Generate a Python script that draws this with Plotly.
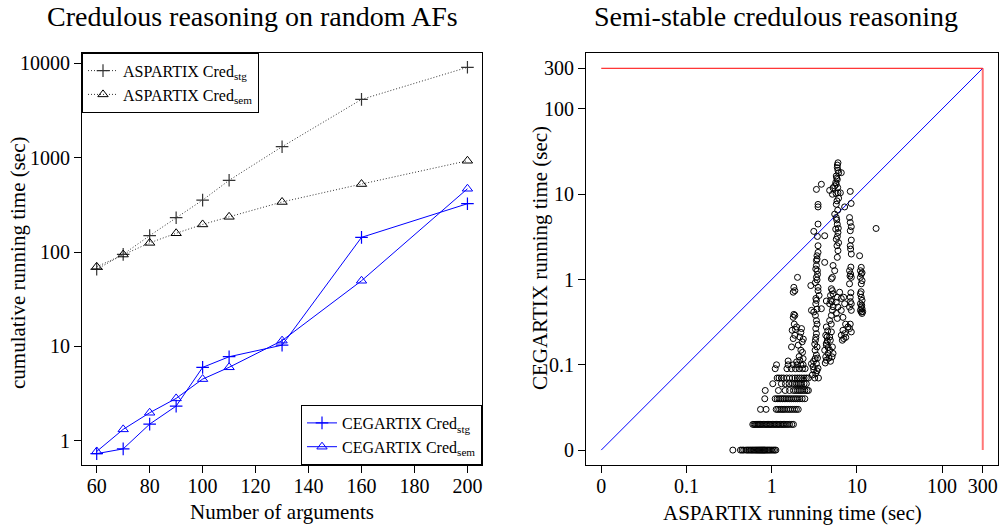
import plotly.graph_objects as go

# ---------------- Left panel data ----------------
n_args = [60, 70, 80, 90, 100, 110, 130, 160, 200]
asp_stg = [65.6, 94.5, 149, 231, 355, 575, 1306, 4140, 9060]
asp_sem = [69.8, 94, 125, 158, 196, 236, 339, 525, 927]
ceg_stg = [0.73, 0.82, 1.50, 2.33, 5.99, 7.77, 10.3, 143, 325]
ceg_sem = [0.77, 1.32, 1.98, 2.81, 4.5, 6.0, 11.5, 49.6, 468]
left_yticks = [1, 10, 100, 1000, 10000]
left_xticks = [60, 80, 100, 120, 140, 160, 180, 200]

# ---------------- Right panel data (0 drawn at 0.01) ----------------
row0_x = [0.35, 0.43, 0.45, 0.47, 0.5, 0.52, 0.54, 0.56, 0.58, 0.6, 0.62, 0.64, 0.66, 0.68, 0.7,
          0.72, 0.74, 0.76, 0.78, 0.8, 0.82, 0.84, 0.87, 0.9, 0.93, 0.96, 1.0, 1.04, 1.08, 1.12]
row0_y = [0.01] * len(row0_x)
row2_x = [0.6, 0.62, 0.64, 0.66, 0.68, 0.7, 0.72, 0.74, 0.77, 0.8, 0.83, 0.86, 0.89, 0.92, 0.95, 0.98,
          1.02, 1.06, 1.1, 1.14, 1.18, 1.22, 1.27, 1.32, 1.37, 1.42, 1.48, 1.55, 1.62, 1.72, 1.8]
row2_y = [0.02] * len(row2_x)
row3_x = [0.74, 0.86, 1.13, 1.18, 1.24, 1.3, 1.36, 1.42, 1.5, 1.58, 1.66, 1.75, 1.85, 1.95, 2.05]
row3_y = [0.03] * len(row3_x)
row4_x = [0.83, 1.1, 1.16, 1.22, 1.28, 1.34, 1.4, 1.47, 1.55, 1.63, 1.72, 1.82, 1.92, 2.02, 2.14, 2.28, 2.45]
row4_y = [0.04] * len(row4_x)
row5_x = [0.84, 1.2, 1.44, 1.62, 1.8, 1.9, 2.0, 2.1, 2.2, 2.32, 2.45, 2.6, 2.7]
row5_y = [0.05] * len(row5_x)
row6_x = [1.03, 1.3, 1.45, 1.6, 1.75, 1.85, 1.95, 2.05, 2.15, 2.25, 2.4, 2.55]
row6_y = [0.06] * len(row6_x)
row7_x = [1.16, 1.22, 1.3, 1.38, 1.5, 1.62, 1.75, 1.88, 2.0, 2.12, 2.25, 2.4, 2.55, 2.7]
row7_y = [0.07] * len(row7_x)
row10_x = [1.14, 1.56, 1.79, 1.99, 2.2, 2.34, 1.1, 1.51, 1.7, 1.9, 2.1, 2.3, 2.47]
row10_y = [0.1, 0.1, 0.1, 0.1, 0.1, 0.1, 0.09, 0.09, 0.09, 0.09, 0.09, 0.09, 0.09]

colA_x = [1.82, 1.87, 1.79, 2.01, 1.82, 1.87, 1.79, 1.84, 1.96, 1.74, 1.87, 1.79, 2.14, 2.24, 2.28,
          2.05, 2.2, 2.14, 2.34, 1.96, 1.71, 1.56, 2.3, 2.1, 1.9, 2.2, 2.35]
colA_y = [0.81, 0.74, 0.71, 1.06, 0.39, 0.38, 0.36, 0.30, 0.278, 0.254, 0.222, 0.203, 0.212, 0.266, 0.186,
          0.17, 0.148, 0.113, 0.118, 0.108, 0.162, 0.111, 0.14, 0.125, 0.26, 0.24, 0.2]

colB_x = [3.35, 3.83, 3.5, 3.5, 3.5, 3.12, 4.19, 3.44, 3.5, 3.5, 3.41, 3.35, 3.35, 3.29, 3.44, 3.35,
          3.41, 2.88, 3.5, 3.5, 3.6, 4.19, 3.35, 3.29, 2.93, 3.12, 3.26, 3.35, 3.41, 3.29, 3.35, 3.26,
          3.41, 3.23, 3.35, 3.23, 3.35, 3.5, 3.12, 3.29, 3.54, 3.0, 2.93, 3.06, 3.2, 3.4, 3.1, 3.45,
          3.2, 3.3, 3.4, 3.3, 3.25, 3.45, 3.4, 3.83, 4.38]
colB_y = [11.4, 13.1, 7.6, 7.1, 4.47, 3.67, 3.26, 3.2, 2.49, 2.08, 1.74, 1.67, 1.46, 1.33, 1.27, 1.06,
          0.99, 0.85, 0.81, 0.74, 0.65, 1.59, 0.57, 0.52, 0.435, 0.416, 0.38, 0.33, 0.30, 0.266, 0.232, 0.194,
          0.162, 0.148, 0.13, 0.118, 0.103, 0.091, 0.087, 0.079, 0.07, 0.076, 0.103, 0.095, 0.07, 0.085, 0.11, 0.12,
          0.175, 0.21, 0.45, 0.6, 0.92, 1.15, 1.9, 0.455, 0.56]

colC_x = [5.02, 5.02, 5.16, 5.25, 4.93, 4.79, 5.25, 5.16, 5.02, 4.79, 4.38, 4.31, 4.46, 4.38, 4.19, 4.31,
          4.38, 4.79, 5.02, 4.88, 5.16, 5.25, 4.79, 4.59, 5.11, 4.38, 4.5, 4.6, 4.7, 4.9, 4.25, 4.55,
          5.0, 5.1, 4.9]
colC_y = [1.02, 0.78, 0.74, 0.68, 0.57, 0.52, 0.48, 0.435, 0.38, 0.33, 0.278, 0.222, 0.212, 0.178, 0.148, 0.124,
          0.113, 0.212, 0.243, 0.194, 0.162, 0.136, 0.148, 0.136, 0.124, 0.17, 0.19, 0.16, 0.12, 0.11, 0.105, 0.25,
          0.3, 0.55, 0.65]

colD_x = [6.0, 5.89, 6.11, 5.73, 5.89, 5.64, 5.73, 5.49, 5.25, 4.79, 6.0, 6.4, 5.16, 5.84, 5.73, 5.49,
          5.73, 5.89, 5.64, 6.0, 5.73, 5.84, 6.0, 5.89, 5.25, 5.49, 5.16, 5.89, 5.73, 6.0, 5.73, 5.89,
          6.56, 5.9, 6.0, 5.8, 5.95, 5.7, 6.1, 5.95, 5.8, 6.05, 5.9, 6.1]
colD_y = [23.4, 20.5, 17.9, 16.4, 14.9, 13.7, 13.1, 12.5, 11.9, 11.1, 10.4, 10.4, 10.0, 8.36, 7.63, 5.84,
          5.33, 4.45, 3.9, 3.56, 2.97, 2.49, 2.18, 1.82, 1.46, 1.27, 1.06, 0.62, 0.54, 0.475, 0.4, 0.35,
          17.9, 22.0, 19.0, 15.5, 12.0, 10.2, 9.0, 6.5, 5.0, 4.0, 3.2, 2.7]

colE_x = [8.36, 7.18, 8.56, 8.2, 8.36, 8.6, 8.36, 8.6, 8.36, 8.44, 8.6, 8.2, 8.44, 8.6, 8.2, 8.36,
          8.6, 8.2, 8.6, 8.4, 8.5, 8.3, 8.5, 6.56, 6.86, 7.18, 7.0, 7.37, 6.86, 7.18, 6.56, 7.0,
          7.4, 6.75, 7.86, 8.2, 8.6, 8.36, 6.27, 6.56]
colE_y = [10.8, 7.1, 7.8, 5.33, 4.67, 4.16, 3.73, 2.9, 2.49, 2.28, 1.99, 1.27, 1.16, 1.06, 0.89, 0.62,
          0.52, 0.475, 0.435, 0.55, 0.7, 1.1, 1.4, 0.435, 0.36, 0.52, 0.62, 0.30, 0.254, 0.232, 0.222, 0.203,
          0.21, 0.194, 0.278, 0.266, 0.243, 0.30, 0.71, 0.6]

colF_x = [10.76, 11.25, 11.0, 11.5, 11.25, 11.0, 11.5, 11.25, 11.0, 11.25, 11.5, 11.0, 11.25, 11.5, 11.0,
          11.25, 11.5, 11.7, 11.4, 11.2, 16.8]
colF_y = [1.9, 1.39, 1.27, 1.2, 1.16, 1.06, 0.97, 0.89, 0.68, 0.62, 0.57, 0.52, 0.475, 0.455, 0.435,
          0.416, 0.40, 0.42, 0.5, 0.72, 3.97]

right_tickvals = [0.01, 0.1, 1, 10, 100, 300]
right_ticktext = ["0", "0.1", "1", "10", "100", "300"]
limit = [0.01, 300]

FONT = "Liberation Serif"

sc_x = (row0_x + row2_x + row3_x + row4_x + row5_x + row6_x + row7_x + row10_x
        + colA_x + colB_x + colC_x + colD_x + colE_x + colF_x)
sc_y = (row0_y + row2_y + row3_y + row4_y + row5_y + row6_y + row7_y + row10_y
        + colA_y + colB_y + colC_y + colD_y + colE_y + colF_y)

fig = go.Figure()

DOTS = "1px,2px"
# Left panel traces
fig.add_trace(go.Scatter(x=n_args, y=asp_stg, mode="lines+markers", name="ASPARTIX Cred<sub>stg</sub>",
                         line=dict(color="#333", width=1, dash=DOTS),
                         marker=dict(symbol="cross-thin-open", size=9, line=dict(color="black", width=1.2)),
                         xaxis="x", yaxis="y", legend="legend"))
fig.add_trace(go.Scatter(x=n_args, y=asp_sem, mode="lines+markers", name="ASPARTIX Cred<sub>sem</sub>",
                         line=dict(color="#333", width=1, dash=DOTS),
                         marker=dict(symbol="triangle-up-open", size=9, color="black", line=dict(color="black", width=1)),
                         xaxis="x", yaxis="y", legend="legend"))
fig.add_trace(go.Scatter(x=n_args, y=ceg_stg, mode="lines+markers", name="CEGARTIX Cred<sub>stg</sub>",
                         line=dict(color="blue", width=1),
                         marker=dict(symbol="cross-thin-open", size=9, line=dict(color="blue", width=1.2)),
                         xaxis="x", yaxis="y", legend="legend2"))
fig.add_trace(go.Scatter(x=n_args, y=ceg_sem, mode="lines+markers", name="CEGARTIX Cred<sub>sem</sub>",
                         line=dict(color="blue", width=1),
                         marker=dict(symbol="triangle-up-open", size=9, color="blue", line=dict(color="blue", width=1)),
                         xaxis="x", yaxis="y", legend="legend2"))

# Right panel traces
fig.add_trace(go.Scatter(x=limit, y=limit, mode="lines", line=dict(color="blue", width=1),
                         xaxis="x2", yaxis="y2", showlegend=False))
fig.add_trace(go.Scatter(x=limit, y=[limit[1], limit[1]], mode="lines", line=dict(color="red", width=1),
                         xaxis="x2", yaxis="y2", showlegend=False))
fig.add_trace(go.Scatter(x=[limit[1], limit[1]], y=limit, mode="lines", line=dict(color="rgba(255,60,60,0.7)", width=2),
                         xaxis="x2", yaxis="y2", showlegend=False))
fig.add_trace(go.Scatter(x=sc_x, y=sc_y, mode="markers",
                         marker=dict(symbol="circle-open", size=6, color="black", line=dict(color="black", width=1)),
                         xaxis="x2", yaxis="y2", showlegend=False))

ax_common = dict(showline=True, mirror=True, linecolor="black", linewidth=1, ticks="outside",
                 ticklen=7, tickcolor="black", showgrid=False, zeroline=False,
                 tickfont=dict(family=FONT, size=20, color="black"))

ydom = [1 - 465 / 527, 1 - 52.7 / 527]
leg_font = dict(family=FONT, size=16, color="black")
fig.update_layout(
    width=1000, height=527, margin=dict(l=0, r=0, t=0, b=0),
    paper_bgcolor="white", plot_bgcolor="white",
    font=dict(family=FONT, color="black"),
    xaxis=dict(domain=[0.082, 0.482], range=[54.45, 205.5], tickvals=left_xticks,
               ticklabelstandoff=-4, **ax_common),
    yaxis=dict(domain=ydom, type="log", range=[-0.257, 4.112], tickvals=left_yticks,
               ticktext=[str(v) for v in left_yticks], **ax_common),
    xaxis2=dict(domain=[0.586, 0.998], type="log", range=[-2.179, 2.656], tickvals=right_tickvals,
                ticktext=right_ticktext, anchor="y2", ticklabelstandoff=-4, **ax_common),
    yaxis2=dict(domain=ydom, type="log", range=[-2.175, 2.66], tickvals=right_tickvals,
                ticktext=right_ticktext, anchor="x2", **ax_common),
    legend=dict(x=0.082, y=ydom[1], xanchor="left", yanchor="top", bgcolor="white",
                bordercolor="black", borderwidth=1, font=leg_font,
                tracegroupgap=0, itemwidth=30),
    legend2=dict(x=0.482, y=ydom[0], xanchor="right", yanchor="bottom", bgcolor="white",
                 bordercolor="black", borderwidth=1, font=leg_font,
                 tracegroupgap=0, itemwidth=30),
    annotations=[
        dict(text="Credulous reasoning on random AFs", x=252 / 1000, y=1 - 16 / 527, xref="paper", yref="paper",
             showarrow=False, font=dict(family=FONT, size=28), xanchor="center", yanchor="middle"),
        dict(text="Semi-stable credulous reasoning", x=776 / 1000, y=1 - 16 / 527, xref="paper", yref="paper",
             showarrow=False, font=dict(family=FONT, size=28), xanchor="center", yanchor="middle"),
        dict(text="Number of arguments", x=282 / 1000, y=1 - 512 / 527, xref="paper", yref="paper",
             showarrow=False, font=dict(family=FONT, size=21), xanchor="center", yanchor="middle"),
        dict(text="ASPARTIX running time (sec)", x=792 / 1000, y=1 - 513 / 527, xref="paper", yref="paper",
             showarrow=False, font=dict(family=FONT, size=21), xanchor="center", yanchor="middle"),
        dict(text="cumulative running time (sec)", x=18 / 1000, y=1 - 263 / 527, xref="paper", yref="paper",
             showarrow=False, font=dict(family=FONT, size=21), textangle=-90, xanchor="center", yanchor="middle"),
        dict(text="CEGARTIX running time (sec)", x=540 / 1000, y=1 - 258 / 527, xref="paper", yref="paper",
             showarrow=False, font=dict(family=FONT, size=21), textangle=-90, xanchor="center", yanchor="middle"),
    ],
)

fig.write_html("out.html")
